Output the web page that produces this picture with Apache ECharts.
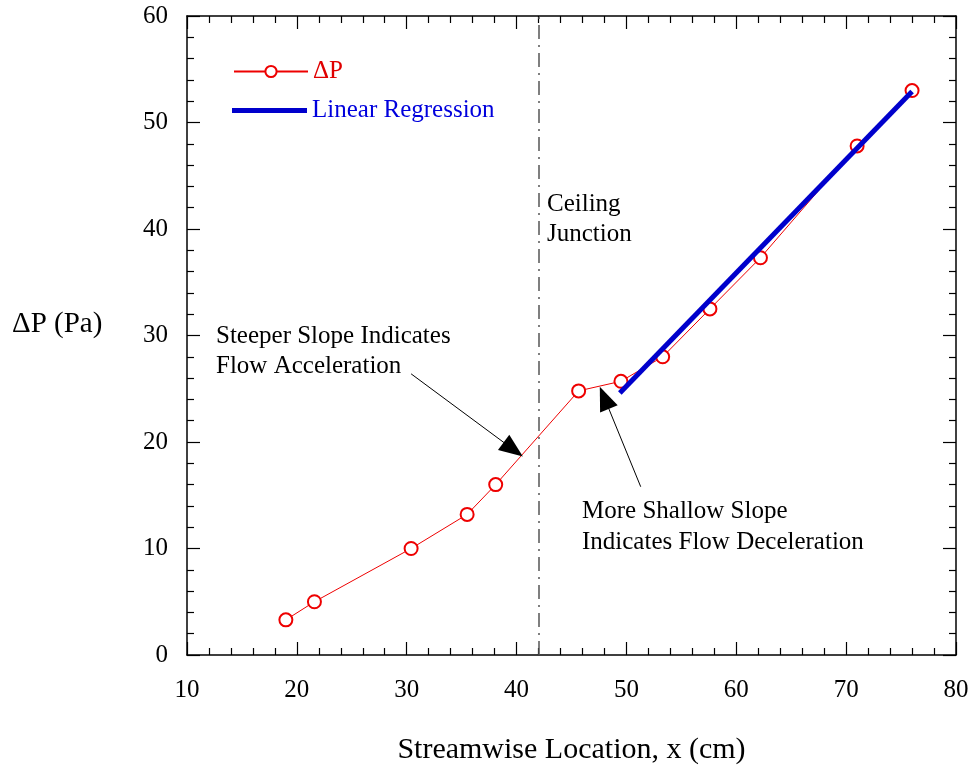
<!DOCTYPE html>
<html><head><meta charset="utf-8">
<script src="https://cdn.jsdelivr.net/npm/echarts@6/dist/echarts.min.js"></script>
<style>html,body{margin:0;padding:0;background:#fff}#c{width:974px;height:770px}</style>
</head><body><div id="c"></div>
<script>
const xValues = [19.0, 21.6, 30.4, 35.5, 38.1, 45.65, 49.5, 53.3, 57.6, 62.2, 71.0, 76.0];
const dpValues = [3.3, 5.0, 10.0, 13.2, 16.0, 24.8, 25.7, 28.0, 32.5, 37.3, 47.8, 53.0];
const regX = [49.4, 76.0];
const regY = [24.6, 52.9];
const junctionX = 42;
const xTicks = [10, 80, 10];
const yTicks = [0, 60, 10];

const FONT = 'Liberation Serif';
const chart = echarts.init(document.getElementById('c'), null, {renderer: 'canvas'});
const axisCommon = {
  axisLine: {show: true, onZero: false, lineStyle: {color: '#000', width: 1.5}},
  axisTick: {show: true, inside: true, length: 13, lineStyle: {color: '#000', width: 1.2}},
  minorTick: {show: true, splitNumber: 5, length: 7, lineStyle: {color: '#000', width: 1.2}},
  splitLine: {show: false}
};
const font = {fontFamily: FONT, fontSize: 25, color: '#000'};
const annot = (left, top, text, lh) => ({type: 'text', left: left, top: top,
  style: {text: text, font: '25px "Liberation Serif"', fill: '#000', lineHeight: lh}});
chart.setOption({
  animation: false,
  grid: {left: 187, right: 18, top: 16, bottom: 104, containLabel: false},
  legend: [
    {orient: 'vertical', left: 233, top: 59, padding: 0, itemWidth: 74, itemHeight: 14,
     textStyle: {fontFamily: FONT, fontSize: 25, color: '#e00000'}, data: ['ΔP']},
    {orient: 'vertical', left: 232, top: 98, padding: 0, itemWidth: 75, itemHeight: 5,
     textStyle: {fontFamily: FONT, fontSize: 25, color: '#0000dd'},
     data: [{name: 'Linear Regression', icon: 'rect'}]}
  ],
  xAxis: [
    Object.assign({type: 'value', min: xTicks[0], max: xTicks[1], interval: xTicks[2], position: 'bottom',
      name: 'Streamwise Location, x (cm)', nameLocation: 'middle', nameGap: 80,
      nameTextStyle: {fontFamily: FONT, fontSize: 30, color: '#000'},
      axisLabel: Object.assign({margin: 23}, font)}, axisCommon),
    Object.assign({type: 'value', min: xTicks[0], max: xTicks[1], interval: xTicks[2], position: 'top',
      axisLabel: {show: false}}, axisCommon)
  ],
  yAxis: [
    Object.assign({type: 'value', min: yTicks[0], max: yTicks[1], interval: yTicks[2], position: 'left',
      axisLabel: Object.assign({margin: 19}, font)}, axisCommon),
    Object.assign({type: 'value', min: yTicks[0], max: yTicks[1], interval: yTicks[2], position: 'right',
      axisLabel: {show: false}}, axisCommon)
  ],
  graphic: [
    {type: 'text', left: 12, top: 310, style: {text: 'ΔP (Pa)', font: '29px "Liberation Serif"', fill: '#000'}},
    annot(547, 189, 'Ceiling\nJunction', 30),
    annot(216, 321, 'Steeper Slope Indicates\nFlow Acceleration', 30),
    annot(582, 496, 'More Shallow Slope\nIndicates Flow Deceleration', 31)
  ],
  series: [
    {
      name: 'ΔP', type: 'line', xAxisIndex: 0, yAxisIndex: 0,
      data: xValues.map((x, i) => [x, dpValues[i]]),
      symbol: 'emptyCircle', symbolSize: 13,
      lineStyle: {color: '#ee0000', width: 1},
      itemStyle: {color: '#ee0000', borderColor: '#ee0000', borderWidth: 1},
      z: 3,
      markLine: {
        silent: true, animation: false, label: {show: false},
        symbol: ['none', 'none'],
        data: [
          [{coord: [junctionX, yTicks[0]], lineStyle: {color: '#555', width: 1.5, type: [14, 6, 2, 6]}},
           {coord: [junctionX, yTicks[1]]}],
          [{coord: [30.4, 26.4], symbol: 'none', lineStyle: {color: '#000', width: 1, type: 'solid'}},
           {coord: [39.7, 19.3], symbol: 'triangle', symbolSize: [19, 24]}],
          [{coord: [51.3, 15.8], symbol: 'none', lineStyle: {color: '#000', width: 1, type: 'solid'}},
           {coord: [47.99, 24.15], symbol: 'triangle', symbolSize: [19, 24]}]
        ],
        itemStyle: {color: '#000'}
      }
    },
    {
      name: 'Linear Regression', type: 'line', xAxisIndex: 0, yAxisIndex: 0,
      data: regX.map((x, i) => [x, regY[i]]),
      symbol: 'none', lineStyle: {color: '#0000cc', width: 5}, itemStyle: {color: '#0000cc'}, z: 4
    }
  ]
});
</script></body></html>
